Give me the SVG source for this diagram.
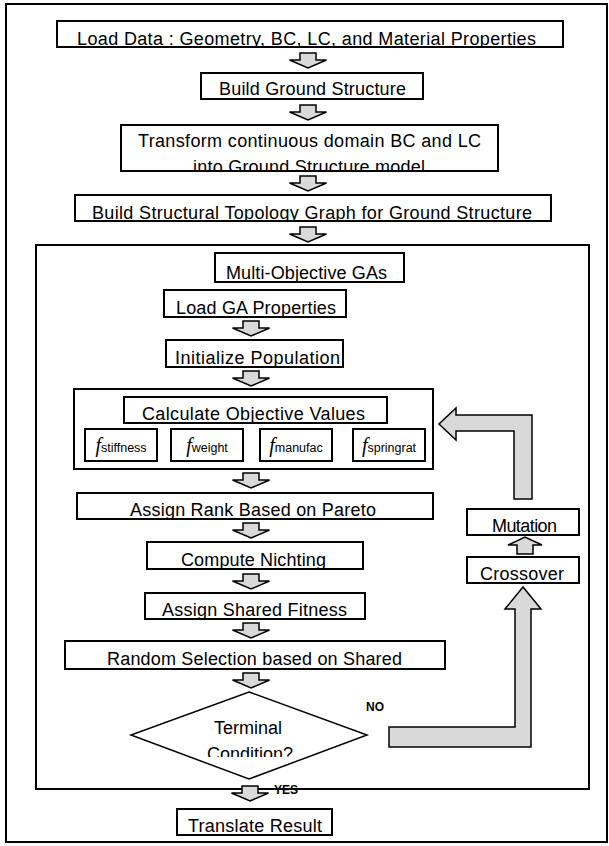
<svg xmlns="http://www.w3.org/2000/svg" width="609" height="846" viewBox="0 0 609 846">
<style>
.box{fill:#fff;stroke:#000;stroke-width:2}
.frame{fill:none;stroke:#000;stroke-width:2}
.t{font-family:"Liberation Sans",Arial,sans-serif;font-size:18px;fill:#000}
.arr{fill:#d9d9d9;stroke:#000;stroke-width:1.5;stroke-linejoin:miter}
.lbl{font-family:"Liberation Sans",Arial,sans-serif;font-weight:bold;font-size:12px;fill:#000}
.fi{font-family:"Liberation Serif","Times New Roman",serif;font-style:italic;font-size:20px}
.sub{font-family:"Liberation Sans",Arial,sans-serif;font-size:12.5px}
</style>
<defs>
<path id="down" d="M-8,0 H8 V7 H18.5 L0,15 L-18.5,7 H-8 Z"/>
<clipPath id="c1"><rect x="58" y="22" width="504" height="24"/></clipPath>
<clipPath id="c3"><rect x="122" y="126" width="375" height="44"/></clipPath>
<clipPath id="c4"><rect x="76" y="196" width="474" height="24"/></clipPath>
<clipPath id="c5"><rect x="216" y="254" width="187" height="27"/></clipPath>
<clipPath id="c6"><rect x="165" y="291" width="180" height="25"/></clipPath>
<clipPath id="c7"><rect x="167" y="341" width="175" height="25"/></clipPath>
<clipPath id="c9"><rect x="125" y="398" width="261" height="24"/></clipPath>
<clipPath id="c11"><rect x="78" y="494" width="354" height="24"/></clipPath>
<clipPath id="c12"><rect x="148" y="543" width="214" height="25"/></clipPath>
<clipPath id="c13"><rect x="146" y="594" width="218" height="24"/></clipPath>
<clipPath id="c15"><rect x="131" y="700" width="236" height="57"/></clipPath>
</defs>

<rect class="frame" x="6" y="4" width="601" height="838"/>

<g id="ga-frame">
<rect class="frame" x="36" y="245" width="553" height="544"/>
</g>

<g id="n-load-data">
<rect class="box" x="57" y="21" width="506" height="26"/>
<text class="t" x="77" y="45" textLength="459" clip-path="url(#c1)">Load Data : Geometry, BC, LC, and Material Properties</text>
</g>
<g id="n-build-ground">
<rect class="box" x="201" y="73" width="222" height="26"/>
<text class="t" x="219" y="95" textLength="187">Build Ground Structure</text>
</g>
<g id="n-transform">
<rect class="box" x="121" y="125" width="377" height="46"/>
<text class="t" x="138" y="147" textLength="343">Transform continuous domain BC and LC</text>
<text class="t" x="193" y="173" textLength="232" clip-path="url(#c3)">into Ground Structure model</text>
</g>
<g id="n-topology">
<rect class="box" x="75" y="195" width="476" height="26"/>
<text class="t" x="92" y="219" textLength="440" clip-path="url(#c4)">Build Structural Topology Graph for Ground Structure</text>
</g>
<g id="n-moga">
<rect class="box" x="215" y="253" width="189" height="29"/>
<text class="t" x="226" y="279" textLength="161" clip-path="url(#c5)">Multi-Objective GAs</text>
</g>
<g id="n-load-ga">
<rect class="box" x="164" y="290" width="182" height="27"/>
<text class="t" x="176" y="314" textLength="160" clip-path="url(#c6)">Load GA Properties</text>
</g>
<g id="n-init">
<rect class="box" x="166" y="340" width="177" height="27"/>
<text class="t" x="175" y="364" textLength="165" clip-path="url(#c7)">Initialize Population</text>
</g>
<g id="n-calc">
<rect class="box" x="74" y="389" width="359" height="80"/>
<rect class="box" x="124" y="397" width="263" height="26"/>
<text class="t" x="142" y="420" textLength="223" clip-path="url(#c9)">Calculate Objective Values</text>
<rect class="box" x="85" y="429" width="72" height="32"/>
<text x="121" y="452" text-anchor="middle"><tspan class="fi">f</tspan><tspan class="sub">stiffness</tspan></text>
<rect class="box" x="171" y="429" width="72" height="32"/>
<text x="207" y="452" text-anchor="middle"><tspan class="fi">f</tspan><tspan class="sub">weight</tspan></text>
<rect class="box" x="260" y="429" width="72" height="32"/>
<text x="296" y="452" text-anchor="middle"><tspan class="fi">f</tspan><tspan class="sub">manufac</tspan></text>
<rect class="box" x="353" y="429" width="72" height="32"/>
<text x="389" y="452" text-anchor="middle"><tspan class="fi">f</tspan><tspan class="sub">springrat</tspan></text>
</g>
<g id="n-rank">
<rect class="box" x="77" y="493" width="356" height="26"/>
<text class="t" x="130" y="516" textLength="246" clip-path="url(#c11)">Assign Rank Based on Pareto</text>
</g>
<g id="n-niche">
<rect class="box" x="147" y="542" width="216" height="27"/>
<text class="t" x="181" y="566" textLength="145" clip-path="url(#c12)">Compute Nichting</text>
</g>
<g id="n-shared">
<rect class="box" x="145" y="593" width="220" height="26"/>
<text class="t" x="162" y="616" textLength="185" clip-path="url(#c13)">Assign Shared Fitness</text>
</g>
<g id="n-select">
<rect class="box" x="65" y="641" width="380" height="28"/>
<text class="t" x="107" y="665" textLength="295">Random Selection based on Shared</text>
</g>
<g id="n-terminal">
<polygon points="249,692 367,735 249,779 131,735" fill="#fff" stroke="#000" stroke-width="1.5"/>
<text class="t" x="248" y="734" text-anchor="middle">Terminal</text>
<text class="t" x="250" y="760" text-anchor="middle" clip-path="url(#c15)">Condition?</text>
</g>
<g id="n-mutation">
<rect class="box" x="467" y="509" width="112" height="26"/>
<text class="t" x="492" y="532" textLength="65">Mutation</text>
</g>
<g id="n-crossover">
<rect class="box" x="467" y="557" width="112" height="26"/>
<text class="t" x="480" y="580" textLength="84">Crossover</text>
</g>
<g id="n-translate">
<rect class="box" x="177" y="809" width="155" height="26"/>
<text class="t" x="188" y="832" textLength="134">Translate Result</text>
</g>

<g id="connectors">
<use href="#down" class="arr" x="308" y="53"/>
<use href="#down" class="arr" x="308" y="105"/>
<use href="#down" class="arr" x="308" y="176"/>
<use href="#down" class="arr" x="308" y="227"/>
<use href="#down" class="arr" x="251" y="321"/>
<use href="#down" class="arr" x="251" y="371"/>
<use href="#down" class="arr" x="251" y="473"/>
<use href="#down" class="arr" x="251" y="523"/>
<use href="#down" class="arr" x="251" y="574"/>
<use href="#down" class="arr" x="251" y="623"/>
<use href="#down" class="arr" x="251" y="673"/>
<use href="#down" class="arr" x="250" y="786"/>
<path class="arr" d="M389,727 H515 V609 H505 L523,587 L541,609 H531 V747 H389 Z"/>
<path class="arr" d="M517,554 H533 V545 H542 L525,537 L508,545 H517 Z"/>
<path class="arr" d="M532,499 V415 H456 V408 L439,424 L456,440 V431 H514 V499 Z"/>
<text class="lbl" x="366" y="711">NO</text>
<text class="lbl" x="274" y="794" font-size="13">YES</text>
</g>
</svg>
